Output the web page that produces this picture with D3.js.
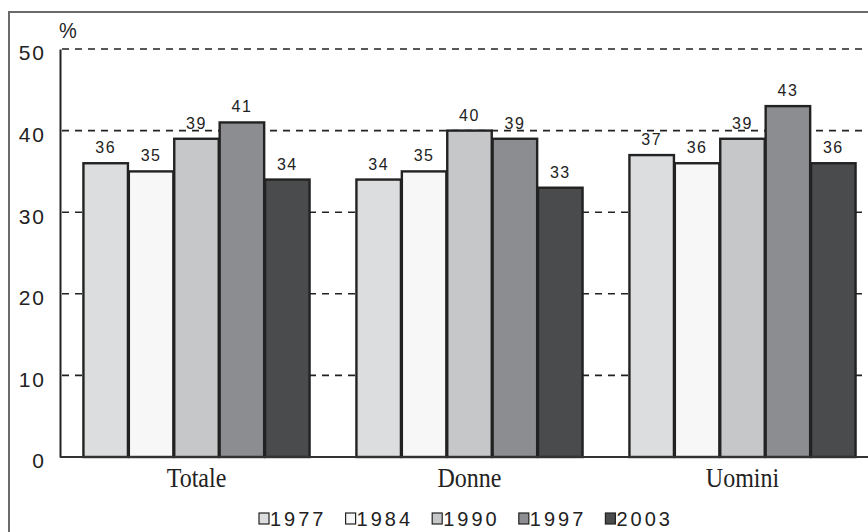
<!DOCTYPE html>
<html>
<head>
<meta charset="utf-8">
<script src="https://cdn.jsdelivr.net/npm/d3@7/dist/d3.min.js"></script>
<style>
  html, body { margin: 0; padding: 0; background: #fff; }
  svg { display: block; }
</style>
</head>
<body>
<svg id="chart" width="868" height="532"></svg>
<script>
// Categories, series and tick labels
const categories = ["Totale", "Donne", "Uomini"];
const years = ["1977", "1984", "1990", "1997", "2003"];
const values1977 = [36, 34, 37];
const values1984 = [35, 35, 36];
const values1990 = [39, 40, 39];
const values1997 = [41, 39, 43];
const values2003 = [34, 33, 36];
const yTicks = [0, 10, 20, 30, 40, 50];
const yearColors = ["#dcdddf", "#f7f7f7", "#c6c7c9", "#8c8d90", "#4a4b4d"];

const seriesValues = [values1977, values1984, values1990, values1997, values2003];
const rows = categories.map((c, i) => ({
  category: c,
  bars: years.map((y, j) => ({ year: y, value: seriesValues[j][i], color: yearColors[j] }))
}));

const sans = "Liberation Sans, Arial, sans-serif";
const serif = "Liberation Serif, Times New Roman, serif";

const svg = d3.select("#chart");
const margin = { left: 60, top: 49, bottom: 75 };
const plotRight = 879;
const y0 = 532 - margin.bottom; // baseline of bars

// Outer frame (only the top and left edges fall inside the page)
svg.append("path")
  .attr("d", "M9,532 V12 H868")
  .attr("fill", "none")
  .attr("stroke", "#6a6a6a")
  .attr("stroke-width", 2);

const y = d3.scaleLinear().domain([0, 50]).range([y0, margin.top]);
const x0 = d3.scaleBand().domain(categories).range([margin.left, plotRight])
  .paddingInner(0.165).paddingOuter(0.0825);
const x1 = d3.scaleBand().domain(years).range([0, x0.bandwidth()]).padding(0.02);

// Dashed horizontal gridlines
svg.append("g")
  .selectAll("line")
  .data(yTicks.filter(t => t > 0))
  .join("line")
  .attr("x1", margin.left + 2)
  .attr("x2", 868)
  .attr("y1", d => y(d))
  .attr("y2", d => y(d))
  .attr("stroke", "#222")
  .attr("stroke-width", 1.6)
  .attr("stroke-dasharray", "7,6");

// Y axis with tick labels
const yAxis = d3.axisLeft(y).tickValues(yTicks).tickSize(0).tickPadding(14);
const yg = svg.append("g").attr("transform", `translate(${margin.left},0)`).call(yAxis);
yg.select(".domain").attr("stroke", "#222").attr("stroke-width", 2);
yg.selectAll("text")
  .attr("font-family", sans)
  .attr("font-size", 21)
  .attr("letter-spacing", "2px")
  .attr("fill", "#222")
  .attr("dy", "0.52em");

svg.append("text")
  .attr("transform", "translate(59,38) scale(1,1.1)")
  .attr("font-family", sans)
  .attr("font-size", 20)
  .attr("fill", "#222")
  .text("%");

// Bars
const groups = svg.append("g")
  .selectAll("g")
  .data(rows)
  .join("g")
  .attr("transform", d => `translate(${x0(d.category)},0)`);

groups.selectAll("rect")
  .data(d => d.bars)
  .join("rect")
  .attr("x", d => x1(d.year))
  .attr("y", d => y(d.value))
  .attr("width", x1.bandwidth())
  .attr("height", d => y0 - y(d.value))
  .attr("fill", d => d.color)
  .attr("stroke", "#222")
  .attr("stroke-width", 2.4);

// Value labels
groups.selectAll("text")
  .data(d => d.bars)
  .join("text")
  .attr("x", d => x1(d.year) + x1.bandwidth() / 2)
  .attr("y", d => y(d.value) - 10)
  .attr("text-anchor", "middle")
  .attr("font-family", sans)
  .attr("font-size", 16)
  .attr("letter-spacing", "1.5px")
  .attr("fill", "#222")
  .text(d => d.value);

// X axis baseline and category labels
svg.append("line")
  .attr("x1", margin.left).attr("x2", 868)
  .attr("y1", y0).attr("y2", y0)
  .attr("stroke", "#333").attr("stroke-width", 2);

svg.append("g")
  .selectAll("text")
  .data(categories)
  .join("text")
  .attr("transform", d => `translate(${x0(d) + x0.bandwidth() / 2},487) scale(1,1.15)`)
  .attr("text-anchor", "middle")
  .attr("font-family", serif)
  .attr("font-size", 24)
  .attr("fill", "#222")
  .text(d => d);

// Legend
const legend = svg.append("g").attr("transform", "translate(259,513)");
const item = legend.selectAll("g")
  .data(years)
  .join("g")
  .attr("transform", (d, i) => `translate(${i * 86.6},0)`);
item.append("rect")
  .attr("width", 10).attr("height", 11)
  .attr("fill", (d, i) => yearColors[i])
  .attr("stroke", "#222").attr("stroke-width", 1.2);
item.append("text")
  .attr("x", 11)
  .attr("y", 12.5)
  .attr("font-family", sans)
  .attr("font-size", 20)
  .attr("letter-spacing", "3px")
  .attr("fill", "#222")
  .text(d => d);
</script>
</body>
</html>
